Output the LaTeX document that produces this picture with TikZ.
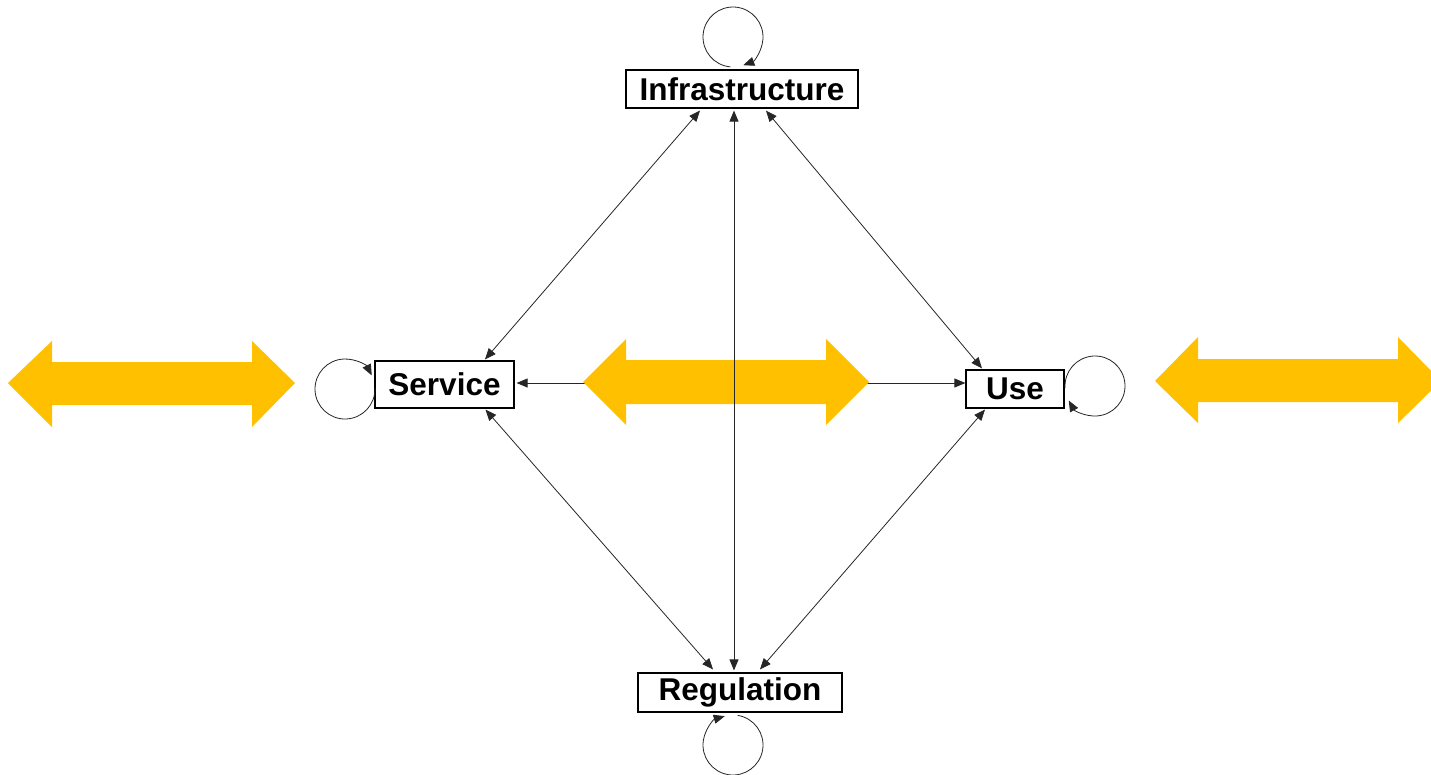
\documentclass[tikz,border=0pt]{standalone}
\usepackage{fontspec}
\setmainfont{Liberation Sans}
\usetikzlibrary{arrows.meta}
\definecolor{gold}{HTML}{FFC000}
\tikzset{
  box/.style={draw=black, line width=1.2pt, fill=white, inner sep=0pt,
    font=\fontsize{31.5}{36}\selectfont\bfseries},
  link/.style={line width=0.8pt, draw=black!85,
    {Triangle[length=11pt,width=9pt]}-{Triangle[length=11pt,width=9pt]}},
  selfloop/.style={line width=0.8pt, draw=black!85, -{Triangle[length=11pt,width=9pt]}},
  bigarrow/.style={fill=gold, draw=none}
}
\begin{document}
\begin{tikzpicture}[x=1pt,y=1pt]
\clip (0,0) rectangle (1431,-774);
\fill[white] (0,0) rectangle (1431,-774);

% the four components
\node[box, minimum width=232pt, minimum height=38pt] (infra) at (742,-89) {Infrastructure};
\node[box, minimum width=139pt, minimum height=47pt] (service) at (444.5,-384.5) {Service};
\node[box, minimum width=98pt, minimum height=38pt] (use) at (1015,-389) {Use};
\node[box, minimum width=204pt, minimum height=39pt] (reg) at (740,-692.5) {Regulation};

% service <-> use (passes behind the central arrow)
\draw[link] ([xshift=2pt]service.east |- 0,-383) -- (use.west |- 0,-383);

% broad two-way arrows
\fill[bigarrow] (8,-383) -- (52,-341) -- (52,-362) -- (252,-362) -- (252,-341)
  -- (295,-383) -- (252,-427) -- (252,-405) -- (52,-405) -- (52,-427) -- cycle;
\fill[bigarrow] (583,-382) -- (626,-339) -- (626,-360) -- (826,-360) -- (826,-339)
  -- (869,-382) -- (826,-425) -- (826,-404) -- (626,-404) -- (626,-425) -- cycle;
\fill[bigarrow] (1155,-381) -- (1198,-337) -- (1198,-359) -- (1398,-359) -- (1398,-337)
  -- (1441,-381) -- (1398,-423) -- (1398,-402) -- (1198,-402) -- (1198,-423) -- cycle;

% links between the components
\draw[link] ([xshift=-8pt,yshift=-2pt]infra.south) -- ([yshift=2pt]reg.north -| 734,0);
\draw[link] ([xshift=-42pt,yshift=-2pt]infra.south) -- ([xshift=40.5pt,yshift=1pt]service.north);
\draw[link] ([xshift=24pt,yshift=-2pt]infra.south) -- ([xshift=-33pt,yshift=1pt]use.north);
\draw[link] ([xshift=41pt,yshift=-1pt]service.south) -- ([xshift=-27pt,yshift=3pt]reg.north);
\draw[link] ([xshift=-30pt,yshift=-1pt]use.south) -- ([xshift=20pt,yshift=3pt]reg.north);

% self loops
\coordinate (infraloop) at (733,-37);
\coordinate (serviceloop) at (345,-389);
\coordinate (useloop) at (1095,-386);
\coordinate (regloop) at (733,-745);
\draw[selfloop] ([shift={(265:30pt)}]infraloop) arc[start angle=265, end angle=-70, radius=30pt];
\draw[selfloop] ([shift={(2:30pt)}]serviceloop) arc[start angle=2, end angle=-333, radius=30pt];
\draw[selfloop] ([shift={(184:30pt)}]useloop) arc[start angle=184, end angle=-151, radius=30pt];
\draw[selfloop] ([shift={(81:30pt)}]regloop) arc[start angle=81, end angle=-254, radius=30pt];
\end{tikzpicture}
\end{document}
